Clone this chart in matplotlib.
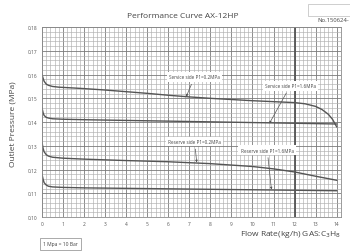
import numpy as np
import matplotlib.pyplot as plt
from matplotlib.ticker import MultipleLocator
from matplotlib.patches import Rectangle

plt.rcParams['font.family'] = ['Open Sans', 'DejaVu Sans']

# Curves (flow kg/h, outlet pressure MPa)
svc02_x = [0, 0.05, 0.1, 0.2, 0.3, 0.5, 0.8, 1, 2, 3, 4, 5, 6, 7, 8, 9, 10, 11, 12, 12.5, 13, 13.3, 13.6, 13.8, 14]
svc02_y = [0.1600, 0.1585, 0.1572, 0.1560, 0.1555, 0.1550, 0.1547, 0.1546, 0.1541, 0.1535, 0.1528, 0.1521,
           0.1513, 0.1506, 0.1500, 0.1495, 0.1490, 0.1486, 0.1482, 0.1477, 0.1466, 0.1453, 0.1433, 0.1412, 0.1380]

svc16_x = [0, 0.05, 0.1, 0.2, 0.3, 0.5, 1, 2, 4, 6, 8, 10, 12, 14]
svc16_y = [0.1460, 0.1440, 0.1428, 0.1420, 0.1417, 0.1414, 0.1412, 0.1410, 0.1407, 0.1404, 0.1401, 0.1398,
           0.1395, 0.1392]

res02_x = [0, 0.05, 0.1, 0.2, 0.3, 0.5, 1, 2, 4, 6, 8, 10, 11, 12, 13, 14]
res02_y = [0.1315, 0.1290, 0.1275, 0.1263, 0.1257, 0.1252, 0.1248, 0.1244, 0.1238, 0.1233, 0.1225, 0.1213,
           0.1203, 0.1190, 0.1172, 0.1155]

res16_x = [0, 0.05, 0.1, 0.2, 0.3, 0.5, 1, 2, 4, 6, 8, 10, 12, 14]
res16_y = [0.1180, 0.1160, 0.1145, 0.1135, 0.1130, 0.1127, 0.1125, 0.1123, 0.1121, 0.1119, 0.1117, 0.1115,
           0.1113, 0.1111]

x_ticks = list(range(0, 15))
y_ticks = [0.10, 0.11, 0.12, 0.13, 0.14, 0.15, 0.16, 0.17, 0.18]
limit_flow = 12

# label text, label position, arrow tip
notes = [
    ("Service side P1=0.2MPa", (7.25, 0.1590), (6.85, 0.1507)),
    ("Service side P1=1.6MPa", (11.8, 0.1553), (10.8, 0.1394)),
    ("Reserve side P1=0.2MPa", (7.25, 0.1318), (7.35, 0.1230)),
    ("Reserve side P1=1.6MPa", (10.7, 0.1282), (10.9, 0.1116)),
]

fig = plt.figure(figsize=(3.5, 2.53), dpi=100)
ax = fig.add_axes([0.12, 0.138, 0.854, 0.751])

ax.set_xlim(0, 14.2)
ax.set_ylim(0.10, 0.18)
ax.xaxis.set_minor_locator(MultipleLocator(0.2))
ax.yaxis.set_minor_locator(MultipleLocator(0.002))
ax.set_xticks(x_ticks)
ax.set_yticks(y_ticks)
ax.set_yticklabels([f"{v:.2f}" for v in y_ticks])
ax.grid(which='major', color='#7a7a7a', lw=0.6)
ax.grid(which='minor', color='#b0b0b0', lw=0.45)
ax.set_axisbelow(True)
for s in ax.spines.values():
    s.set_color('#8a8a8a')
    s.set_linewidth(0.6)
ax.tick_params(which='both', length=0, labelsize=3.5, labelcolor='#555555', pad=3)

ax.axvline(limit_flow, color='#555555', lw=1.3)

for xs, ys in [(svc02_x, svc02_y), (svc16_x, svc16_y), (res02_x, res02_y), (res16_x, res16_y)]:
    ax.plot(xs, ys, color='#555555', lw=1.0)

for text, pos, tip in notes:
    ax.annotate(text, xy=tip, xytext=pos, fontsize=3.3, color='#444444', ha='center', va='center',
                bbox=dict(boxstyle='square,pad=0.5', fc='white', ec='none'),
                arrowprops=dict(arrowstyle='-|>', color='#555555', lw=0.5, mutation_scale=3,
                                shrinkA=2, shrinkB=0))

fig.text(183 / 350, 1 - 16 / 253, "Performance Curve AX-12HP", fontsize=6, color='#444444',
         ha='center', va='center')
fig.text(13 / 350, 1 - 124 / 253, "Outlet Pressure (MPa)", fontsize=6, color='#444444',
         rotation=90, ha='center', va='center')
fig.text(341 / 350, 1 - 235 / 253, "Flow Rate(kg/h) GAS:C$_3$H$_8$", fontsize=6, color='#444444',
         ha='right', va='center')
fig.text(349 / 350, 1 - 20 / 253, "No.150624-", fontsize=4.2, color='#444444', ha='right', va='center')
fig.patches.append(Rectangle((308 / 350, 1 - 17 / 253), 45 / 350, 12 / 253, transform=fig.transFigure,
                             fc='white', ec='#bbbbbb', lw=0.5))
fig.text(60.5 / 350, 1 - 245 / 253, "1 Mpa = 10 Bar", fontsize=3.6, color='#444444', ha='center', va='center',
         bbox=dict(boxstyle='square,pad=0.7', fc='white', ec='#888888', lw=0.5))

fig.savefig('out.png', dpi=100)
